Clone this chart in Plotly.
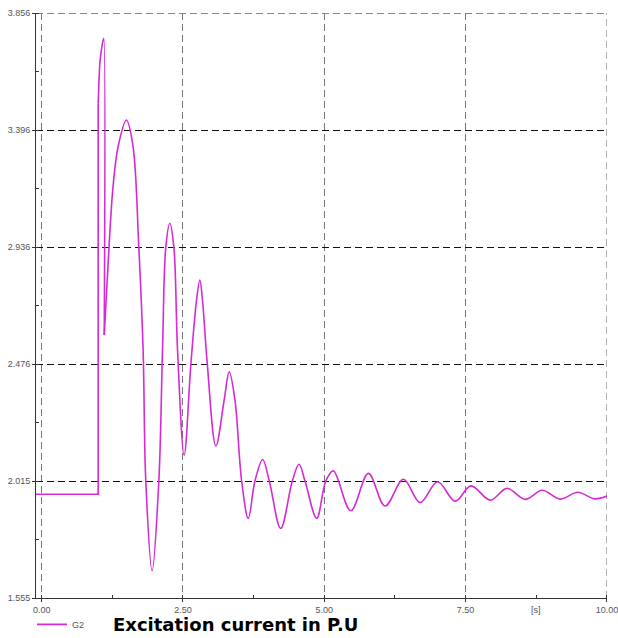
import plotly.graph_objects as go

# ---- data (time in s, excitation current in p.u.) ----
t_pre = [-0.1, 1.0, 1.0]
i_pre = [1.963, 1.963, 3.50]

t_spike = [1.0, 1.03, 1.07, 1.10, 1.107]
i_spike = [3.50, 3.66, 3.73, 3.756, 2.589]

t_osc = [1.107, 1.192, 1.263, 1.352, 1.500, 1.617, 1.718, 1.795, 1.842, 1.954,
         2.073, 2.138, 2.197, 2.267, 2.338, 2.404, 2.521,
         2.640, 2.740, 2.799, 2.845, 2.930, 3.082,
         3.229, 3.318, 3.419, 3.538, 3.655, 3.773, 3.910, 4.027, 4.229,
         4.434, 4.553, 4.659, 4.866, 5.026, 5.160, 5.469, 5.780, 6.076,
         6.400, 6.696, 7.003, 7.316, 7.594, 7.936, 8.232, 8.556, 8.852,
         9.176, 9.483, 9.779, 10.0]
i_osc = [2.589, 2.937, 3.173, 3.330, 3.435, 3.330, 2.937, 2.530, 2.015, 1.662,
         2.015, 2.530, 2.937, 3.029, 2.937, 2.530, 2.117,
         2.476, 2.727, 2.806, 2.727, 2.476, 2.153,
         2.334, 2.445, 2.334, 2.015, 1.868, 2.015, 2.100, 2.015, 1.829,
         2.015, 2.081, 2.015, 1.868, 2.015, 2.055, 1.898, 2.045, 1.917,
         2.022, 1.930, 2.012, 1.936, 1.996, 1.940, 1.986, 1.943, 1.979,
         1.944, 1.971, 1.945, 1.956]

y_tickvals = [1.555, 2.0152, 2.4754, 2.9356, 3.3958, 3.856]
y_ticktext = ["1.555", "2.015", "2.476", "2.936", "3.396", "3.856"]
x_tickvals = [0, 2.5, 5, 7.5, 10]
x_ticktext = ["0.00", "2.50", "5.00", "7.50", "10.00"]

series_name = "G2"
caption = "Excitation current in P.U"
unit_label = "[s]"

X_MIN, X_MAX = -0.1, 10.0
Y_MIN, Y_MAX = 1.555, 3.856

LINE_COLOR = "#d62ad6"
tick_font = dict(family="Liberation Sans Narrow, Arial Narrow, Liberation Sans, sans-serif",
                 size=9, color="#555555")
GRID_DASH = "7px,4px"

fig = go.Figure()
fig.add_trace(go.Scatter(x=t_pre, y=i_pre, mode="lines", name=series_name,
                         line=dict(color=LINE_COLOR, width=1.6), legendgroup="g2"))
fig.add_trace(go.Scatter(x=t_spike, y=i_spike, mode="lines", name=series_name, showlegend=False,
                         line=dict(color=LINE_COLOR, width=1.6, shape="spline", smoothing=0.6),
                         legendgroup="g2"))
fig.add_trace(go.Scatter(x=t_osc, y=i_osc, mode="lines", name=series_name, showlegend=False,
                         line=dict(color=LINE_COLOR, width=1.6, shape="spline", smoothing=1.0),
                         legendgroup="g2"))

fig.update_layout(
    width=618, height=638,
    margin=dict(l=36, r=11, t=13, b=40, autoexpand=False),
    paper_bgcolor="white", plot_bgcolor="white",
    showlegend=True,
    legend=dict(x=-0.007, y=-0.045, xanchor="left", yanchor="middle",
                bgcolor="rgba(0,0,0,0)",
                font=dict(family="Liberation Sans Narrow, Liberation Sans, sans-serif",
                          size=9, color="#555555"),
                itemwidth=30),
    xaxis=dict(range=[X_MIN, X_MAX + 0.001], tickvals=x_tickvals, ticktext=x_ticktext,
               showgrid=True, gridcolor="#777777", griddash=GRID_DASH, gridwidth=1,
               showline=True, linecolor="#333333", linewidth=1,
               ticks="outside", ticklen=3, tickcolor="#333333",
               tickfont=tick_font, zeroline=False, automargin=False,
               ticklabeloverflow="allow",
               minor=dict(tick0=0, dtick=1.25, ticks="inside", ticklen=3,
                          tickcolor="#333333", showgrid=False)),
    yaxis=dict(range=[Y_MIN, Y_MAX], tickvals=y_tickvals, ticktext=y_ticktext,
               showgrid=True, gridcolor="#111111", griddash=GRID_DASH, gridwidth=1,
               showline=True, linecolor="#333333", linewidth=1,
               ticks="outside", ticklen=3, tickcolor="#333333",
               tickfont=tick_font, zeroline=False, automargin=False,
               ticklabeloverflow="allow",
               minor=dict(tick0=Y_MIN, dtick=(Y_MAX - Y_MIN) / 10, ticks="inside", ticklen=3,
                          tickcolor="#333333", showgrid=False)),
    shapes=[
        # top and right grid lines at the range edges
        dict(type="line", xref="paper", yref="y", x0=0, x1=1, y0=Y_MAX, y1=Y_MAX,
             line=dict(color="#111111", width=1, dash=GRID_DASH), layer="below"),
        dict(type="line", xref="x", yref="paper", x0=X_MAX, x1=X_MAX, y0=0, y1=1,
             line=dict(color="#777777", width=1, dash=GRID_DASH), layer="below"),
    ],
    annotations=[
        dict(text=caption, x=0.1315, y=-0.046, xref="paper", yref="paper",
             xanchor="left", yanchor="middle", showarrow=False,
             font=dict(family="DejaVu Sans", size=18, color="black", weight="bold")),
        dict(text=unit_label, x=8.75, y=-0.02, xref="x", yref="paper",
             xanchor="center", yanchor="middle", showarrow=False, font=tick_font),
    ],
)

fig.write_html(
    "out.html",
    config={"displayModeBar": False},
    post_script="document.body.style.margin='0';document.body.style.overflow='hidden';",
)
